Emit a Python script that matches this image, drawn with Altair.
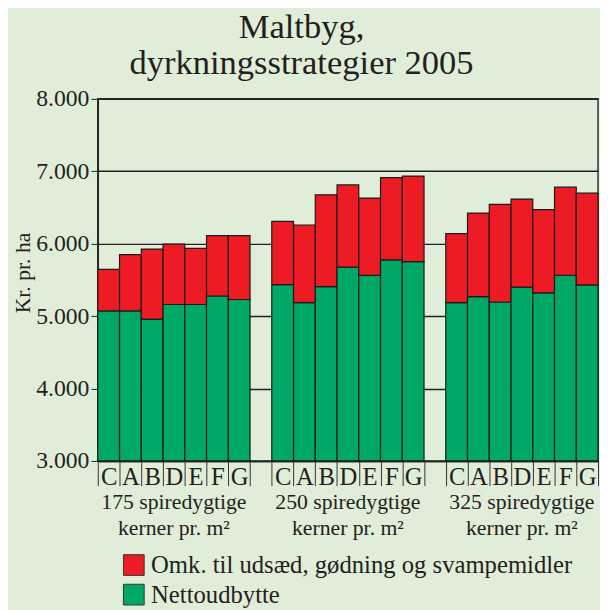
import altair as alt
import pandas as pd

# ---- data ----
groups = ["175", "250", "325"]
treatments = ["C", "A", "B", "D", "E", "F", "G"]
net = {
    "175": [5073, 5073, 4959, 5160, 5160, 5278, 5229],
    "250": [5435, 5186, 5408, 5676, 5562, 5776, 5753],
    "325": [5186, 5268, 5195, 5400, 5322, 5564, 5431],
}
total = {
    "175": [5644, 5849, 5926, 5995, 5934, 6110, 6110],
    "250": [6307, 6258, 6675, 6811, 6630, 6911, 6933],
    "325": [6140, 6422, 6544, 6616, 6471, 6780, 6698],
}
group_line1 = ["175 spiredygtige", "250 spiredygtige", "325 spiredygtige"]
group_line2 = ["kerner pr. m²", "kerner pr. m²", "kerner pr. m²"]
series = ["Omk. til udsæd, gødning og svampemidler", "Nettoudbytte"]
colors = ["#ED1C24", "#00A865"]
y_ticks = [3000, 4000, 5000, 6000, 7000, 8000]
Y_MIN, Y_MAX = 3000, 8000

# ---- build table ----
domain = []
rows = []
for gi, g in enumerate(groups):
    for ti, t in enumerate(treatments):
        key = f"{g}-{t}"
        domain.append(key)
        rows.append({"key": key, "serie": series[1], "lo": Y_MIN, "hi": net[g][ti]})
        rows.append({"key": key, "serie": series[0], "lo": net[g][ti], "hi": total[g][ti]})
    if gi < len(groups) - 1:
        domain.append(f"gap{gi + 1}")
df = pd.DataFrame(rows)

lab = pd.DataFrame({
    "key": [f"{g}-D" for g in groups],
    "l1": group_line1,
    "l2": group_line2,
})

FONT = "Liberation Serif"
INK = "#231f20"
BG = "#E0EDD8"

x_enc = alt.X(
    "key:N",
    scale=alt.Scale(domain=domain, paddingInner=0, paddingOuter=0),
    axis=alt.Axis(
        title=None,
        labelExpr="isString(datum.value) && indexof(datum.value, '-') > 0 ? substring(datum.value, 4) : ''",
        labelAngle=0,
        labelFont=FONT,
        labelFontSize=25,
        labelColor=INK,
        labelBaseline="alphabetic",
        labelPadding=-1,
        tickBand="extent",
        tickSize=25,
        tickColor="#333",
        tickWidth=1,
        domainColor="#222",
        domainWidth=1.5,
        grid=False,
    ),
)

bars = alt.Chart(df).mark_bar(stroke="#1a1a1a", strokeWidth=1.2).encode(
    x=x_enc,
    y=alt.Y(
        "lo:Q",
        scale=alt.Scale(domain=[Y_MIN, Y_MAX], zero=False, nice=False),
        axis=alt.Axis(
            title="Kr. pr. ha",
            titleFont=FONT,
            titleFontSize=22,
            titleFontWeight="normal",
            titleColor=INK,
            titleX=-76,
            titleY=176,
            titleBaseline="middle",
            titleAlign="center",
            values=y_ticks,
            labelExpr="replace(format(datum.value, ','), ',', '.')",
            labelFont=FONT,
            labelFontSize=24,
            labelColor=INK,
            labelPadding=2,
            tickSize=7,
            tickColor="#222",
            domainColor="#222",
            domainWidth=1.5,
            grid=True,
            gridColor="#222",
            gridWidth=1.5,
        ),
    ),
    y2="hi:Q",
    color=alt.Color(
        "serie:N",
        scale=alt.Scale(domain=series, range=colors),
        legend=alt.Legend(
            title=None,
            orient="none",
            legendX=24,
            legendY=460,
            symbolType="square",
            symbolSize=441,
            symbolStrokeColor="#333",
            symbolStrokeWidth=1,
            symbolOpacity=1,
            labelFont=FONT,
            labelFontSize=25,
            labelColor=INK,
            labelOffset=5,
            rowPadding=4,
            labelLimit=600,
            padding=0,
        ),
    ),
)

t1 = alt.Chart(lab).mark_text(
    font=FONT, fontSize=22, color=INK, align="center", baseline="alphabetic"
).encode(x=alt.X("key:N"), y=alt.value(416), text="l1:N")

t2 = alt.Chart(lab).mark_text(
    font=FONT, fontSize=22, color=INK, align="center", baseline="alphabetic"
).encode(x=alt.X("key:N"), y=alt.value(442), text="l2:N")

chart = alt.layer(bars, t1, t2).properties(
    width=507,
    height=367,
    autosize=alt.AutoSizeParams(type="none"),
    padding={"left": 91, "top": 88, "right": 2, "bottom": 147},
    background=BG,
    title=alt.TitleParams(
        text=["Maltbyg,", "dyrkningsstrategier 2005"],
        font=FONT,
        fontSize=35,
        fontWeight="normal",
        color=INK,
        anchor="middle",
        dx=-47,
        lineHeight=37,
        offset=6,
    ),
).configure_view(
    stroke="#333", strokeWidth=1.5, fill=BG
)

chart.save("out.html", embed_options={"renderer": "svg", "actions": False})
